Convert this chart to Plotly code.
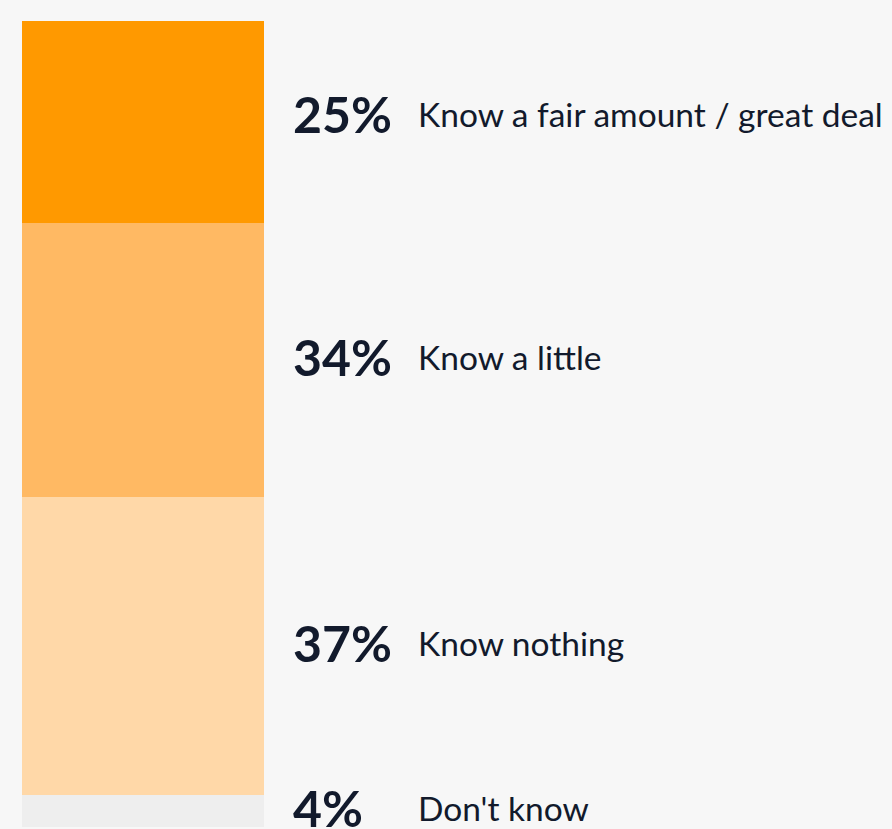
import plotly.graph_objects as go

categories = ["Don't know", "Know nothing", "Know a little", "Know a fair amount / great deal"]
values = [4, 37, 34, 25]
colors = ["#eeeeee", "#ffd8a8", "#ffb963", "#ff9900"]

W, H = 892, 829
ml, mr, mt, mb = 22, 0, 21, 2
plot_w = W - ml - mr
bar_px = 242

fig = go.Figure()
for cat, v, c in zip(categories, values, colors):
    fig.add_trace(go.Bar(x=[0], y=[v], name=cat, marker=dict(color=c, line=dict(width=0)),
                         width=1, hoverinfo="skip"))

cum = 0
for i, (cat, v) in enumerate(zip(categories, values)):
    mid = cum + v / 2
    cum += v
    ys = 3 if i < 3 else 2
    if i == 3:
        ys = 8
    fig.add_annotation(x=(291 - ml) / plot_w, xref="paper", y=mid, yref="y", yshift=ys,
                       text=f"<b>{v}%</b>", showarrow=False, xanchor="left", yanchor="middle",
                       font=dict(family="Lato", size=50, color="#121a2c", weight=900))
    fig.add_annotation(x=(416 - ml) / plot_w, xref="paper", y=mid, yref="y", yshift=ys,
                       text=cat, showarrow=False, xanchor="left", yanchor="middle",
                       font=dict(family="Lato", size=33.5, color="#121a2c"))

fig.update_layout(
    barmode="stack", width=W, height=H, showlegend=False,
    margin=dict(l=ml, r=mr, t=mt, b=mb),
    paper_bgcolor="#f7f7f7", plot_bgcolor="#f7f7f7",
    xaxis=dict(range=[-0.5, -0.5 + plot_w / bar_px], visible=False, fixedrange=True),
    yaxis=dict(range=[0, 100], visible=False, fixedrange=True),
)
fig.write_html("out.html")
